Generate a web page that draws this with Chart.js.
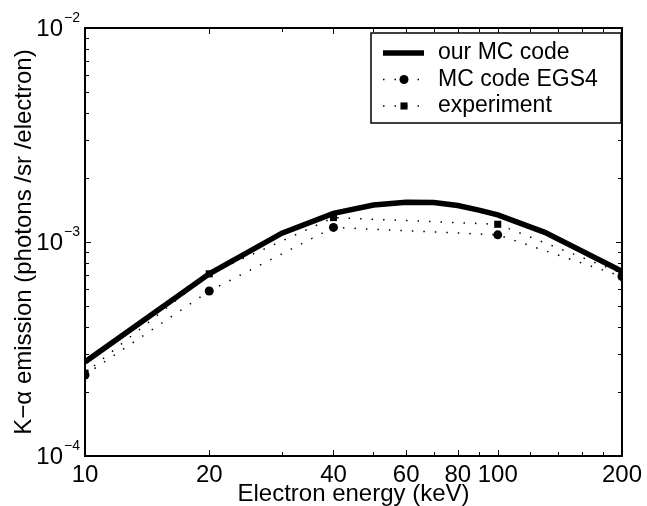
<!DOCTYPE html>
<html>
<head>
<meta charset="utf-8">
<script src="https://cdn.jsdelivr.net/npm/chart.js@4.4.0/dist/chart.umd.min.js"></script>
<style>
  body { margin: 0; background: #fff; }
  #wrap { width: 647px; height: 506px; }
</style>
</head>
<body>
<div id="wrap"><canvas id="kalpha" width="647" height="506"></canvas></div>
<script>
// our MC code (solid)
const energyMC = [10, 20, 30, 40, 50, 60, 70, 80, 90, 100, 130, 200];
const emissionMC = [2.75e-4, 7.1e-4, 1.1e-3, 1.36e-3, 1.49e-3, 1.535e-3, 1.53e-3, 1.48e-3, 1.41e-3, 1.34e-3, 1.11e-3, 7.3e-4];
// MC code EGS4
const energyEGS = [10, 20, 40, 100, 200];
const emissionEGS = [2.39e-4, 5.9e-4, 1.17e-3, 1.08e-3, 6.9e-4];
// experiment
const energyExp = [10, 20, 40, 100, 200];
const emissionExp = [2.44e-4, 7.1e-4, 1.3e-3, 1.21e-3, 7.15e-4];

const xTickLabels = [10, 20, 40, 60, 80, 100, 200];
const xMinorTicks = [30, 50, 70, 90, 120, 140, 160, 180];
const yTickExps = [-4, -3, -2];
const yMinorTicks = [2e-4, 3e-4, 4e-4, 5e-4, 6e-4, 7e-4, 8e-4, 9e-4,
                     2e-3, 3e-3, 4e-3, 5e-3, 6e-3, 7e-3, 8e-3, 9e-3];

const FONT = "'Liberation Sans', Arial, Helvetica, sans-serif";

function pts(xs, ys) {
  return xs.map((x, i) => ({ x: x, y: ys[i] }));
}

const axesPlugin = {
  id: 'axesBox',
  afterDraw(chart) {
    const ctx = chart.ctx;
    const a = chart.chartArea;
    const xs = chart.scales.x, ys = chart.scales.y;
    ctx.save();
    // inward ticks on all four sides
    ctx.strokeStyle = '#000';
    ctx.lineWidth = 1;
    ctx.beginPath();
    xTickLabels.concat(xMinorTicks).forEach(v => {
      const len = xTickLabels.includes(v) ? 6 : 4;
      const px = Math.round(xs.getPixelForValue(v)) + 0.5;
      ctx.moveTo(px, a.bottom); ctx.lineTo(px, a.bottom - len);
      ctx.moveTo(px, a.top); ctx.lineTo(px, a.top + len);
    });
    yTickExps.map(e => Math.pow(10, e)).concat(yMinorTicks).forEach(v => {
      const len = yMinorTicks.includes(v) ? 4 : 6;
      const py = Math.round(ys.getPixelForValue(v)) + 0.5;
      ctx.moveTo(a.left, py); ctx.lineTo(a.left + len, py);
      ctx.moveTo(a.right, py); ctx.lineTo(a.right - len, py);
    });
    ctx.stroke();
    // frame
    ctx.lineWidth = 2;
    ctx.strokeRect(a.left, a.top, a.right - a.left, a.bottom - a.top);

    // y tick labels with superscript exponent
    ctx.fillStyle = '#000';
    yTickExps.forEach(e => {
      const py = ys.getPixelForValue(Math.pow(10, e));
      const ex = '\u2212' + Math.abs(e);
      ctx.font = '14px ' + FONT;
      const ew = ctx.measureText(ex).width;
      const right = a.left - 5;
      ctx.textAlign = 'left';
      ctx.textBaseline = 'middle';
      ctx.fillText(ex, right - ew, py - 10);
      ctx.font = '24px ' + FONT;
      ctx.textAlign = 'right';
      ctx.fillText('10', right - ew - 1, py + 1);
    });

    // legend
    const lx = 371, ly = 33, lw = 250, lh = 90;
    ctx.fillStyle = '#fff';
    ctx.fillRect(lx, ly, lw, lh);
    ctx.lineWidth = 1.5;
    ctx.strokeStyle = '#000';
    ctx.strokeRect(lx, ly, lw, lh);
    chart.data.datasets.forEach((ds, i) => {
      const cy = ly + 20 + i * 26.5;
      ctx.save();
      ctx.strokeStyle = ds.borderColor;
      ctx.lineWidth = ds.borderWidth;
      ctx.setLineDash(ds.borderDash || []);
      ctx.beginPath();
      ctx.moveTo(383, cy); ctx.lineTo(424, cy);
      ctx.stroke();
      ctx.restore();
      ctx.fillStyle = '#000';
      if (ds.pointRadius > 0) {
        if (ds.pointStyle === 'rect') {
          const s = ds.pointRadius * Math.SQRT1_2;
          ctx.fillRect(404 - s, cy - s, 2 * s, 2 * s);
        } else {
          ctx.beginPath();
          ctx.arc(404, cy, ds.pointRadius, 0, Math.PI * 2);
          ctx.fill();
        }
      }
      ctx.font = '23px ' + FONT;
      ctx.textAlign = 'left';
      ctx.textBaseline = 'middle';
      ctx.fillText(ds.label, 438, cy);
    });
    ctx.restore();
  }
};

const ctx1 = document.getElementById('kalpha').getContext('2d');
const kalpha = new Chart(ctx1, {
  type: 'line',
  data: {
    datasets: [{
      label: 'our MC code',
      data: pts(energyMC, emissionMC),
      borderColor: '#000',
      borderWidth: 5.5,
      pointRadius: 0,
      fill: false,
      order: 3
    }, {
      label: 'MC code EGS4',
      data: pts(energyEGS, emissionEGS),
      borderColor: '#000',
      borderWidth: 1.5,
      borderDash: [1.5, 10],
      pointStyle: 'circle',
      pointRadius: 4.5,
      pointBorderWidth: 0,
      pointBackgroundColor: '#000',
      fill: false,
      order: 2
    }, {
      label: 'experiment',
      data: pts(energyExp, emissionExp),
      borderColor: '#000',
      borderWidth: 1.5,
      borderDash: [1.5, 10],
      pointStyle: 'rect',
      pointRadius: 5,
      pointBorderWidth: 0,
      pointBackgroundColor: '#000',
      fill: false,
      order: 1
    }]
  },
  options: {
    responsive: false,
    animation: false,
    layout: { padding: { top: 28, right: 20, left: 0, bottom: 0 } },
    plugins: {
      legend: { display: false },
      tooltip: { enabled: false }
    },
    scales: {
      x: {
        type: 'logarithmic',
        min: 10,
        max: 200,
        grid: { display: false, drawTicks: false },
        border: { display: false },
        afterBuildTicks: s => { s.ticks = xTickLabels.map(v => ({ value: v })); },
        afterFit: s => { s.height = 50; },
        ticks: {
          autoSkip: false,
          maxRotation: 0,
          padding: 5,
          color: '#000',
          font: { family: FONT, size: 24 },
          callback: v => String(v)
        },
        title: {
          display: true,
          text: 'Electron energy (keV)',
          color: '#000',
          padding: { top: 0, bottom: -3 },
          font: { family: FONT, size: 24 }
        }
      },
      y: {
        type: 'logarithmic',
        min: 1e-4,
        max: 1e-2,
        grid: { display: false, drawTicks: false },
        border: { display: false },
        afterFit: s => { s.width = 85; },
        ticks: { display: false },
        title: {
          display: true,
          text: 'K\u2212\u03b1 emission (photons /sr /electron)',
          color: '#000',
          padding: { top: 10, bottom: 0 },
          font: { family: FONT, size: 24 }
        }
      }
    }
  },
  plugins: [axesPlugin]
});
</script>
</body>
</html>
